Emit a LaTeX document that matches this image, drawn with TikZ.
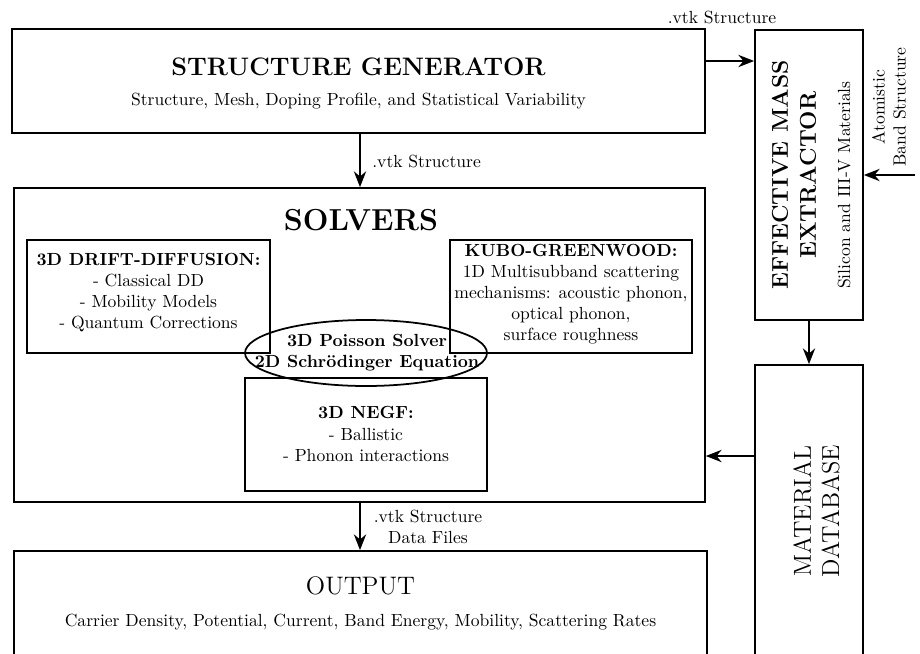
\documentclass[tikz,border=0pt]{standalone}
\usetikzlibrary{arrows.meta,shapes.geometric}
\tikzset{
  box/.style={draw, line width=1pt, inner sep=0pt, fill=none},
  conn/.style={line width=1pt, -{Stealth[length=9pt,width=7pt]}},
  ttl/.style={font=\Large\bfseries, inner sep=0pt},
  txt/.style={font=\normalsize, inner sep=0pt, align=center},
}
\begin{document}
\begin{tikzpicture}[x=0.02cm, y=-0.02cm]
\clip (0,0) rectangle (920,653);
\fill[white] (0,0) rectangle (920,653);

% Structure generator
\node[box, minimum width=13.86cm, minimum height=2.08cm] (sg) at (358.5,81) {};
\node[ttl] (sgt) at (358.5,67) {STRUCTURE GENERATOR};
\node[txt] (sgs) at (358.5,101) {Structure, Mesh, Doping Profile, and Statistical Variability};

% Solvers
\node[box, minimum width=13.82cm, minimum height=6.28cm] (sol) at (359.5,345) {};
\node[font=\LARGE\bfseries, inner sep=0pt] (solt) at (361,220) {SOLVERS};

\node[box, minimum width=4.86cm, minimum height=2.26cm] (dd) at (148.5,296.5) {};
\node[txt] (ddt) at (148.5,292.5) {\textbf{3D DRIFT-DIFFUSION:}\\- Classical DD\\- Mobility Models\\- Quantum Corrections};

\node[box, minimum width=4.84cm, minimum height=2.26cm] (kg) at (571,296.5) {};
\node[txt] (kgt) at (571,294) {\textbf{KUBO-GREENWOOD:}\\1D Multisubband scattering\\mechanisms: acoustic phonon,\\optical phonon,\\surface roughness};

\node[box, minimum width=4.84cm, minimum height=2.26cm] (negf) at (366,434.5) {};
\node[txt] (negft) at (366,434) {\textbf{3D NEGF:}\\- Ballistic\\- Phonon interactions};

\node[draw, line width=1pt, ellipse, inner sep=0pt, minimum width=4.84cm, minimum height=1.32cm] (ps) at (366,353) {};
\node[txt, font=\normalsize\bfseries] (pst) at (367,353) {3D Poisson Solver\\2D Schr\"odinger Equation};

% Output
\node[box, minimum width=13.86cm, minimum height=2.6cm] (out) at (360.5,616) {};
\node[font=\Large, inner sep=0pt] (outt) at (360.5,586) {OUTPUT};
\node[txt] (outs) at (360.5,622) {Carrier Density, Potential, Current, Band Energy, Mobility, Scattering Rates};

% Effective mass extractor
\node[box, minimum width=2.16cm, minimum height=5.8cm] (eme) at (809,175) {};
\node[rotate=90, font=\fontsize{13}{16}\selectfont\bfseries, align=center, inner sep=0pt] (emet) at (794,175) {EFFECTIVE MASS\\EXTRACTOR};
\node[rotate=90, txt] (emes) at (844,185) {Silicon and III-V Materials};

% Material database
\node[box, minimum width=2.16cm, minimum height=6.2cm] (mdb) at (809,520) {};
\node[rotate=90, font=\fontsize{14}{16}\selectfont, align=center, inner sep=0pt] (mdbt) at (816.5,511) {MATERIAL\\DATABASE};

% Connectors
\coordinate (abs) at (915,175);
\draw[conn] (sg.east |- 0,61) -- (eme.west |- 0,61);
\node[txt] (vtkAl) at (722,17) {.vtk Structure};

\draw[conn] (sg.south -| 360,0) -- (sol.north -| 360,0);
\node[txt, anchor=west] (vtkB) at (372,161) {.vtk Structure};

\draw[conn] (sol.south -| 360,0) -- (out.north -| 360,0);
\node[txt] (vtkC) at (428,527) {.vtk Structure\\Data Files};

\draw[conn] (abs) -- (eme.east |- abs);
\node[rotate=90, txt] (absl) at (889,107) {Atomistic\\Band Structure};

\draw[conn] (eme.south) -- (mdb.north);
\draw[conn] (mdb.west |- 0,456) -- (sol.east |- 0,456);
\end{tikzpicture}
\end{document}
